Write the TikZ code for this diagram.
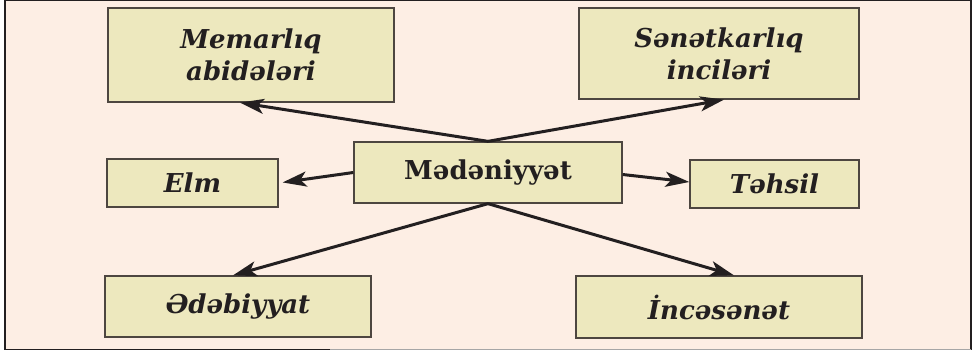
\documentclass[tikz,border=0pt]{standalone}
\usepackage{fontspec}
\setmainfont{DejaVu Serif}
\usetikzlibrary{arrows.meta}
\definecolor{bgc}{HTML}{FDEEE4}
\definecolor{boxc}{HTML}{EDE8BE}
\definecolor{edgec}{HTML}{4D4640}
\definecolor{inkc}{HTML}{231F20}
\tikzset{
  card/.style={draw=edgec, line width=1.3pt, fill=boxc, inner sep=0pt, align=center,
    text=inkc, font=\fontsize{26}{32}\selectfont\bfseries\itshape},
  arr/.style={draw=inkc, line width=3pt, -{Stealth[length=24pt,width=15pt,inset=6pt]}}
}
\begin{document}
\begin{tikzpicture}[x=1pt,y=-1pt]
\useasboundingbox (0,0) rectangle (972,351);
\fill[white] (0,0) rectangle (972,351);
\fill[bgc] (5,0.5) rectangle (971,349.5);
\draw[inkc, line width=1.4pt] (330,349.5) -- (5,349.5) -- (5,0.5) -- (971,0.5) -- (971,349.5);
\draw[gray!70, line width=1.2pt] (330,349.5) -- (971,349.5);

\node[card, minimum width=286pt, minimum height=94pt] (mem) at (251,55) {Memarlıq\\abidələri};
\node[card, minimum width=280pt, minimum height=91pt] (san) at (719,53.5) {Sənətkarlıq\\inciləri};
\node[card, minimum width=171pt, minimum height=48pt] (elm) at (192.5,183) {Elm};
\node[card, minimum width=268pt, minimum height=61pt, font=\fontsize{26}{32}\selectfont\bfseries] (med) at (488,172.5) {Mədəniyyət};
\node[card, minimum width=169pt, minimum height=48pt] (teh) at (774.5,184) {Təhsil};
\node[card, minimum width=266pt, minimum height=61pt] (ede) at (238,306.5) {Ədəbiyyat};
\node[card, minimum width=286pt, minimum height=62pt] (inc) at (719,307) {İncəsənət};

\draw[arr] (med.north) -- ([xshift=-11pt]mem.south);
\draw[arr] (med.north) -- ([xshift=5pt]san.south);
\draw[arr, shorten >=4pt] (med.west) -- (elm.east);
\draw[arr] ([yshift=-2pt]med.east) -- ([yshift=2pt]teh.west);
\draw[arr] (med.south) -- ([xshift=-5pt]ede.north);
\draw[arr] (med.south) -- ([xshift=15pt]inc.north);
\end{tikzpicture}
\end{document}
